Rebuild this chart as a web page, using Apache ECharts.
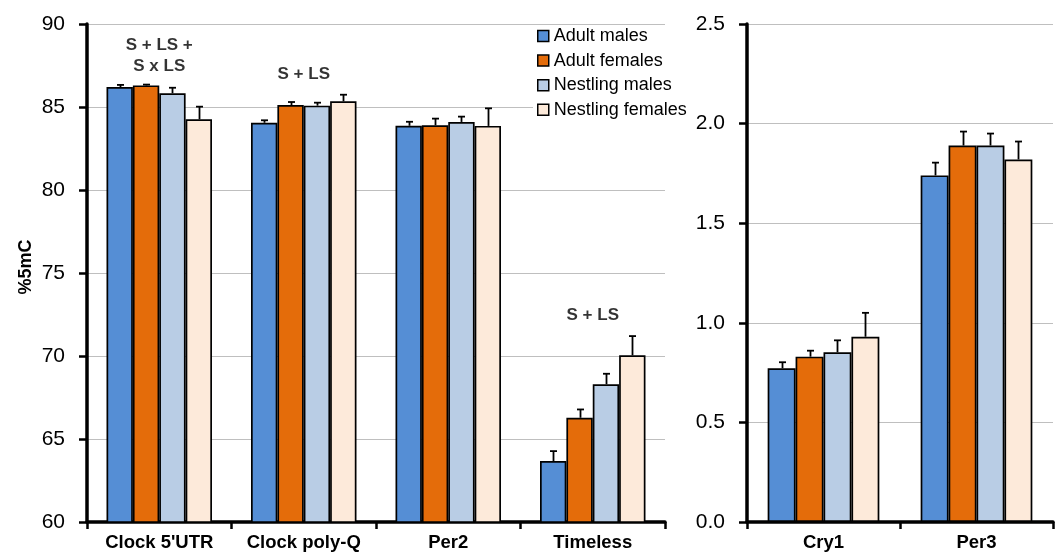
<!DOCTYPE html>
<html><head><meta charset="utf-8">
<script src="https://cdn.jsdelivr.net/npm/echarts@6/dist/echarts.min.js"></script>
<style>html,body{margin:0;padding:0;background:#fff}#c{width:1056px;height:552px}</style>
</head><body><div id="c"></div>
<script>
var groups = ['Adult males', 'Adult females', 'Nestling males', 'Nestling females'];
var colors = ['#558ED5', '#E46C0A', '#B9CDE5', '#FDEADA'];
var leftCategories = ["Clock 5'UTR", 'Clock poly-Q', 'Per2', 'Timeless'];
var rightCategories = ['Cry1', 'Per3'];
// values per group, left panel
var leftValues = [
  [86.2, 84.05, 83.87, 63.67],
  [86.3, 85.12, 83.9, 66.28],
  [85.83, 85.08, 84.1, 68.3],
  [84.26, 85.34, 83.86, 70.04]
];
var leftErrors = [
  [0.13, 0.15, 0.24, 0.6],
  [0.05, 0.18, 0.4, 0.5],
  [0.33, 0.18, 0.32, 0.63],
  [0.76, 0.4, 1.06, 1.16]
];
var rightValues = [
  [0.772, 1.74],
  [0.83, 1.89],
  [0.852, 1.89],
  [0.93, 1.82]
];
var rightErrors = [
  [0.03, 0.064],
  [0.03, 0.07],
  [0.06, 0.06],
  [0.12, 0.09]
];
var leftTicks = [60, 65, 70, 75, 80, 85, 90];
var rightTicks = [0.0, 0.5, 1.0, 1.5, 2.0, 2.5];
var annotations = [
  {cat: 0, y: 88.07, text: 'S + LS +\nS x LS'},
  {cat: 1, y: 86.99, text: 'S + LS'},
  {cat: 3, y: 72.47, text: 'S + LS'}
];

var CAT_GAP = 0.27;
var chart = echarts.init(document.getElementById('c'));
var font = 'Arial, "Liberation Sans", sans-serif';

function errSeries(gi, s, vals, errs) {
  return {
    type: 'custom', xAxisIndex: gi, yAxisIndex: gi, z: 5, silent: true,
    data: vals.map(function (v, i) { return [i, v, errs[i]]; }),
    renderItem: function (params, api) {
      var base = api.coord([api.value(0), api.value(1)]);
      var top = api.coord([api.value(0), api.value(1) + api.value(2)]);
      var band = api.size([1, 0])[0];
      var bw = band * (1 - CAT_GAP) / 4;
      var x = base[0] - band * (1 - CAT_GAP) / 2 + bw * (s + 0.5);
      x = Math.round(x) + 0.5;
      return {
        type: 'group', children: [
          {type: 'line', shape: {x1: x, y1: base[1], x2: x, y2: top[1]}, style: {stroke: '#000', lineWidth: 1.8}},
          {type: 'line', shape: {x1: x - 3.5, y1: top[1], x2: x + 3.5, y2: top[1]}, style: {stroke: '#000', lineWidth: 1.8}}
        ]
      };
    }
  };
}

var series = [];
groups.forEach(function (g, s) {
  series.push({
    name: g, type: 'bar', xAxisIndex: 0, yAxisIndex: 0,
    barGap: '0%', barCategoryGap: (CAT_GAP * 100) + '%',
    data: leftValues[s],
    itemStyle: {color: colors[s], borderColor: '#000', borderWidth: 1.7},
    emphasis: {disabled: true}
  });
  series.push({
    name: g, type: 'bar', xAxisIndex: 1, yAxisIndex: 1,
    barGap: '0%', barCategoryGap: (CAT_GAP * 100) + '%',
    data: rightValues[s],
    itemStyle: {color: colors[s], borderColor: '#000', borderWidth: 1.7},
    emphasis: {disabled: true}
  });
});
groups.forEach(function (g, s) {
  series.push(errSeries(0, s, leftValues[s], leftErrors[s]));
  series.push(errSeries(1, s, rightValues[s], rightErrors[s]));
});
series.push({
  type: 'scatter', xAxisIndex: 0, yAxisIndex: 0, symbolSize: 0, silent: true, z: 6,
  data: annotations.map(function (a) { return {value: [a.cat, a.y], label: {formatter: a.text}}; }),
  label: {show: true, position: 'inside', color: '#000', fontWeight: 'bold', fontSize: 17, fontFamily: font, lineHeight: 21, align: 'center', verticalAlign: 'middle'}
});

function xAxis(gi, cats) {
  return {
    type: 'category', gridIndex: gi, data: cats,
    axisLine: {lineStyle: {color: '#000', width: 3.5}},
    axisTick: {show: true, alignWithLabel: false, interval: 0, length: 7, lineStyle: {color: '#000', width: 2.5}},
    axisLabel: {color: '#000', fontWeight: 'bold', fontSize: 18.5, fontFamily: font, margin: 11, interval: 0, hideOverlap: false}
  };
}
function yAxis(gi, ticks, fmt, name) {
  return {
    type: 'value', gridIndex: gi, min: ticks[0], max: ticks[ticks.length - 1], interval: ticks[1] - ticks[0],
    name: name, nameLocation: 'middle', nameGap: 52, nameRotate: 90, nameMoveOverlap: false,
    nameTextStyle: {color: '#000', fontWeight: 'bold', fontSize: 18, fontFamily: font, padding: [0, 0, 0, 12]},
    axisLine: {show: true, lineStyle: {color: '#000', width: 3.5}},
    axisTick: {show: true, length: 8, lineStyle: {color: '#000', width: 2.5}},
    axisLabel: {color: '#000', fontSize: 21, fontFamily: font, margin: 22, formatter: fmt},
    splitLine: {show: true, lineStyle: {color: '#BFBFBF', width: 1}}
  };
}

chart.setOption({
  animation: false,
  backgroundColor: '#fff',
  grid: [
    {left: 87, right: 391, top: 24, bottom: 30, containLabel: false, outerBoundsMode: 'none'},
    {left: 747, right: 3, top: 24, bottom: 30, containLabel: false, outerBoundsMode: 'none'}
  ],
  legend: {
    data: groups, orient: 'vertical', left: 533, top: 25, itemGap: 6.6,
    backgroundColor: '#fff', padding: [2, 2, 2, 4],
    icon: 'rect', itemWidth: 11, itemHeight: 11, itemStyle: {borderColor: '#000', borderWidth: 1.5},
    textStyle: {color: '#000', fontSize: 18, fontFamily: font},
    selectedMode: false
  },
  xAxis: [xAxis(0, leftCategories), xAxis(1, rightCategories)],
  yAxis: [
    yAxis(0, leftTicks, function (v) { return String(v); }, '%5mC'),
    yAxis(1, rightTicks, function (v) { return v.toFixed(1); }, '')
  ],
  series: series
});
</script></body></html>
